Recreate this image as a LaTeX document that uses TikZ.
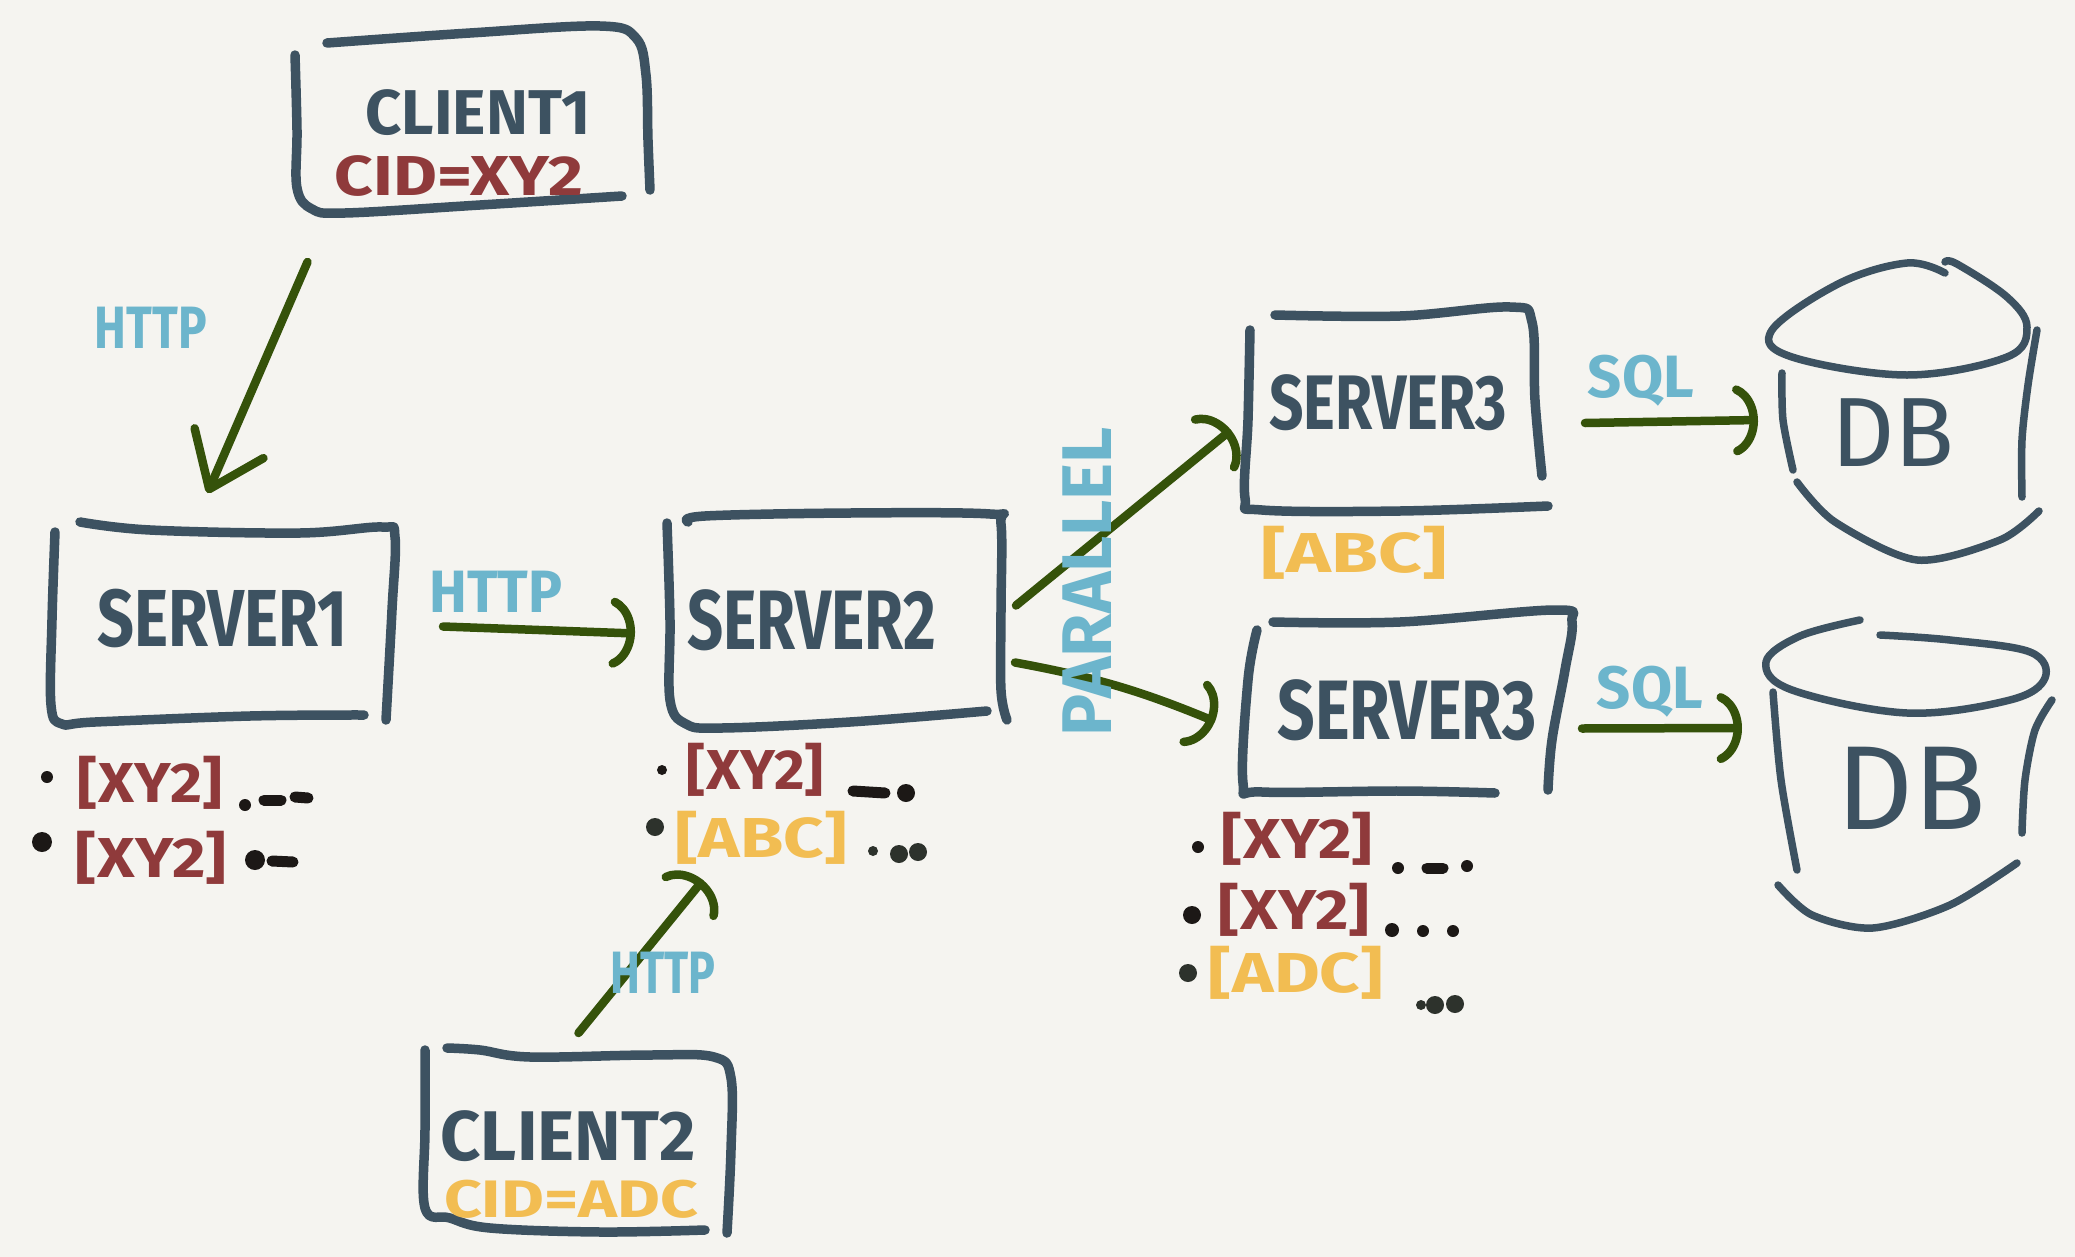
\documentclass[tikz,border=0pt]{standalone}
\usepackage{fontspec}
\setmainfont{Fira Sans}
\usetikzlibrary{arrows.meta,calc}
\definecolor{paperC}{RGB}{245,244,240}
\definecolor{slateC}{RGB}{61,82,97}
\definecolor{brickC}{RGB}{143,58,59}
\definecolor{honeyC}{RGB}{242,189,82}
\definecolor{skyC}{RGB}{108,181,204}
\definecolor{leafC}{RGB}{53,82,10}
\definecolor{inkK}{RGB}{28,24,22}
\definecolor{inkD}{RGB}{45,50,44}
\newcommand{\hand}[1]{\bfseries\fontsize{#1}{#1}\selectfont}

\begin{document}
\begin{tikzpicture}[x=0.1mm, y=-0.1mm,
  sketch/.style={slateC, line width=0.95mm, line cap=round, line join=round},
  flow/.style={leafC, line width=0.85mm, line cap=round,
    -{Arc Barb[arc=140, length=3mm, width=7.4mm, round]}},
  area/.style={inner sep=0pt, outer sep=0pt},
  title/.style={slateC, inner sep=0pt},
  proto/.style={skyC, inner sep=0pt, font=\hand{17}},
  keys/.style={inner sep=0pt, font=\hand{16}},
  trail/.style={line width=1.1mm, line cap=round}
]
  % Paper
  \fill[paperC] (0,0) rectangle (2075,1257);
  \useasboundingbox (0,0) rectangle (2075,1257);

  % Box areas (outlines are sketched below)
  \node[area, minimum width=35.5mm, minimum height=18.6mm] (client1) at (472,119) {};
  \node[area, minimum width=34.3mm, minimum height=20.3mm] (srv1) at (223.5,623.5) {};
  \node[area, minimum width=33.9mm, minimum height=21.3mm] (srv2) at (836.5,620.5) {};
  \node[area, minimum width=30.3mm, minimum height=20.2mm] (srv3a) at (1396.5,409) {};
  \node[area, minimum width=33.2mm, minimum height=18.3mm] (srv3b) at (1409,701.5) {};
  \node[area, minimum width=30.5mm, minimum height=18.5mm] (client2) at (577.5,1140.5) {};
  \node[area, minimum width=27.3mm, minimum height=30.4mm] (db1) at (1903.5,410) {};
  \node[area, minimum width=28.7mm, minimum height=30.8mm] (db2) at (1908.5,774) {};

  % Client 1
  \draw[sketch] plot[smooth, tension=0.6] coordinates {(327,43) (470,33) (600,26) (636,38) (646,75) (648,140) (650,190)};
  \draw[sketch] plot[smooth, tension=0.6] coordinates {(295,55) (297,130) (297,188) (312,209) (345,213) (480,205) (622,196)};

  % Server 1
  \draw[sketch] plot[smooth, tension=0.6] coordinates {(80,522) (150,530) (300,533) (382,527) (395,537) (392,610) (386,720)};
  \draw[sketch] plot[smooth, tension=0.6] coordinates {(55,532) (52,620) (51,705) (62,724) (95,722) (250,716) (364,715)};

  % Server 2
  \draw[sketch] plot[smooth, tension=0.6] coordinates {(688,522) (705,516) (850,513) (990,514) (1001,524) (1001,610) (1001,690) (1007,720)};
  \draw[sketch] plot[smooth, tension=0.6] coordinates {(667,523) (670,620) (670,700) (686,724) (722,728) (850,722) (987,711)};

  % Server 3 (top)
  \draw[sketch] plot[smooth, tension=0.6] coordinates {(1275,315) (1400,316) (1510,307) (1532,322) (1535,400) (1542,476)};
  \draw[sketch] plot[smooth, tension=0.6] coordinates {(1250,330) (1248,420) (1245,498) (1262,510) (1400,511) (1548,506)};

  % Server 3 (bottom)
  \draw[sketch] plot[smooth, tension=0.6] coordinates {(1273,622) (1400,622) (1555,610) (1572,622) (1565,670) (1552,740) (1548,790)};
  \draw[sketch] plot[smooth, tension=0.6] coordinates {(1257,630) (1248,680) (1243,783) (1262,792) (1400,791) (1495,793)};

  % Client 2
  \draw[sketch] plot[smooth, tension=0.6] coordinates {(447,1048) (480,1050) (530,1057) (650,1055) (714,1057) (731,1078) (731,1150) (727,1233)};
  \draw[sketch] plot[smooth, tension=0.6] coordinates {(425,1050) (425,1130) (425,1208) (450,1218) (490,1228) (600,1232) (705,1230)};

  % DB (top)
  \draw[sketch, line width=0.75mm] plot[smooth, tension=0.6] coordinates {(1945,273) (1907,263) (1840,283) (1772,330) (1792,357) (1907,375) (2007,357) (2027,327) (2007,297) (1957,264) (1945,262)};
  \draw[sketch, line width=0.75mm] plot[smooth] coordinates {(2037,330) (2028,385) (2022,440) (2022,497)};
  \draw[sketch, line width=0.75mm] plot[smooth] coordinates {(1782,373) (1783,420) (1793,470)};
  \draw[sketch, line width=0.75mm] plot[smooth] coordinates {(1797,482) (1835,522) (1917,560) (2000,540) (2039,511)};

  % DB (bottom)
  \draw[sketch, line width=0.75mm] plot[smooth, tension=0.6] coordinates {(1860,620) (1800,636) (1766,662) (1792,690) (1907,713) (2010,700) (2045,678) (2030,652) (1950,640) (1880,635)};
  \draw[sketch, line width=0.75mm] plot[smooth] coordinates {(1773,692) (1781,780) (1797,870)};
  \draw[sketch, line width=0.75mm] plot[smooth] coordinates {(2052,700) (2035,730) (2025,780) (2022,833)};
  \draw[sketch, line width=0.75mm] plot[smooth] coordinates {(1778,885) (1812,915) (1873,928) (1950,905) (2017,863)};

  % Connections
  \draw[flow, -{Straight Barb[length=5mm, width=7.5mm, round]}]
    ($(client1.south west)+(13,50)$) -- ($(srv1.north)+(-16,-29)$);
  \draw[flow] ($(srv1.east)+(48,3)$) -- ($(srv2.west)+(-32,13)$);
  \draw[flow] ($(srv2.east)+(10,-15)$) -- ($(srv3a.west)+(-14,21)$);
  \draw[flow] ($(srv2.east)+(9,42)$) to[bend left=6] ($(srv3b.west)+(-28,20)$);
  \draw[flow] ($(client2.north)+(1,-15)$) -- ($(srv2.south west)+(36,153)$);
  \draw[flow] ($(srv3a.east)+(37,14)$) -- ($(db1.west)+(-9,10)$);
  \draw[flow] ($(srv3b.east)+(7,27)$) -- ($(db2.west)+(-23,-46)$);

  % Protocol labels
  \node[proto, xscale=0.8] (http1) at (151,328) {HTTP};
  \node[proto, xscale=0.95] (http2) at (496,592) {HTTP};
  \node[proto, xscale=0.75] (http3) at (663,973) {HTTP};
  \node[proto] (sql1) at (1641,381) {SQL};
  \node[proto] (sql2) at (1650,692) {SQL};
  \node[skyC, inner sep=0pt, font=\hand{20}, rotate=90] (par) at (1087,582) {PARALLEL};

  % Box titles
  \node[title, font=\hand{18}] (t-client1) at (478,113) {CLIENT1};
  \node[brickC, inner sep=0pt, font=\hand{16}, xscale=1.2] (cid1) at (459,176) {CID=XY2};
  \node[title, font=\hand{23}, xscale=0.8] (t-srv1) at (222,618) {SERVER1};
  \node[title, font=\hand{24}, xscale=0.75] (t-srv2) at (812,620) {SERVER2};
  \node[title, font=\hand{22}, xscale=0.78] (t-srv3a) at (1388,403) {SERVER3};
  \node[title, font=\hand{24}, xscale=0.78] (t-srv3b) at (1407,710) {SERVER3};
  \node[title, font=\hand{20}] (t-client2) at (568,1136) {CLIENT2};
  \node[honeyC, inner sep=0pt, font=\hand{15}, xscale=1.25] (cid2) at (571,1199) {CID=ADC};
  \node[title, font=\fontsize{28}{28}\selectfont] (t-db1) at (1893,433) {DB};
  \node[title, font=\fontsize{34}{34}\selectfont] (t-db2) at (1911,788) {DB};

  % Session lists
  \node[keys, brickC, xscale=1.1] (s1a) at (150,783) {[XY2]};
  \node[keys, brickC, xscale=1.15] (s1b) at (151,858) {[XY2]};
  \node[keys, brickC, xscale=1.05] (s2a) at (755,770) {[XY2]};
  \node[keys, honeyC, xscale=1.25] (s2b) at (761,838) {[ABC]};
  \node[keys, honeyC, xscale=1.35] (s3a) at (1354,553) {[ABC]};
  \node[keys, brickC, xscale=1.15] (s3b) at (1297,839) {[XY2]};
  \node[keys, brickC, xscale=1.15] (s3c) at (1294,910) {[XY2]};
  \node[keys, honeyC, xscale=1.25] (s3d) at (1296,973) {[ADC]};

  % Bullets and trailing dots
  \foreach \x/\y/\r in {47/777/6, 42/842/10, 245/805/6, 255/860/10, 662/770/5,
                       906/793/9, 1198/847/6, 1398/868/6, 1467/866/6, 1192/915/9,
                       1392/930/7, 1423/931/6, 1453/931/6}
    \fill[inkK] (\x,\y) circle[radius=\r];
  \foreach \x/\y/\r in {655/827/9, 873/851/5, 899/854/9, 918/852/9,
                       1188/973/9, 1421/1005/5, 1435/1005/9, 1455/1004/9}
    \fill[inkD] (\x,\y) circle[radius=\r];
  \draw[trail, inkK] (264,800) -- (281,800);
  \draw[trail, inkK] (295,797) -- (308,798);
  \draw[trail, inkK] (272,861) -- (293,862);
  \draw[trail, inkK] (853,791) -- (885,793);
  \draw[trail, inkK] (1427,868) -- (1443,868);
\end{tikzpicture}
\end{document}
